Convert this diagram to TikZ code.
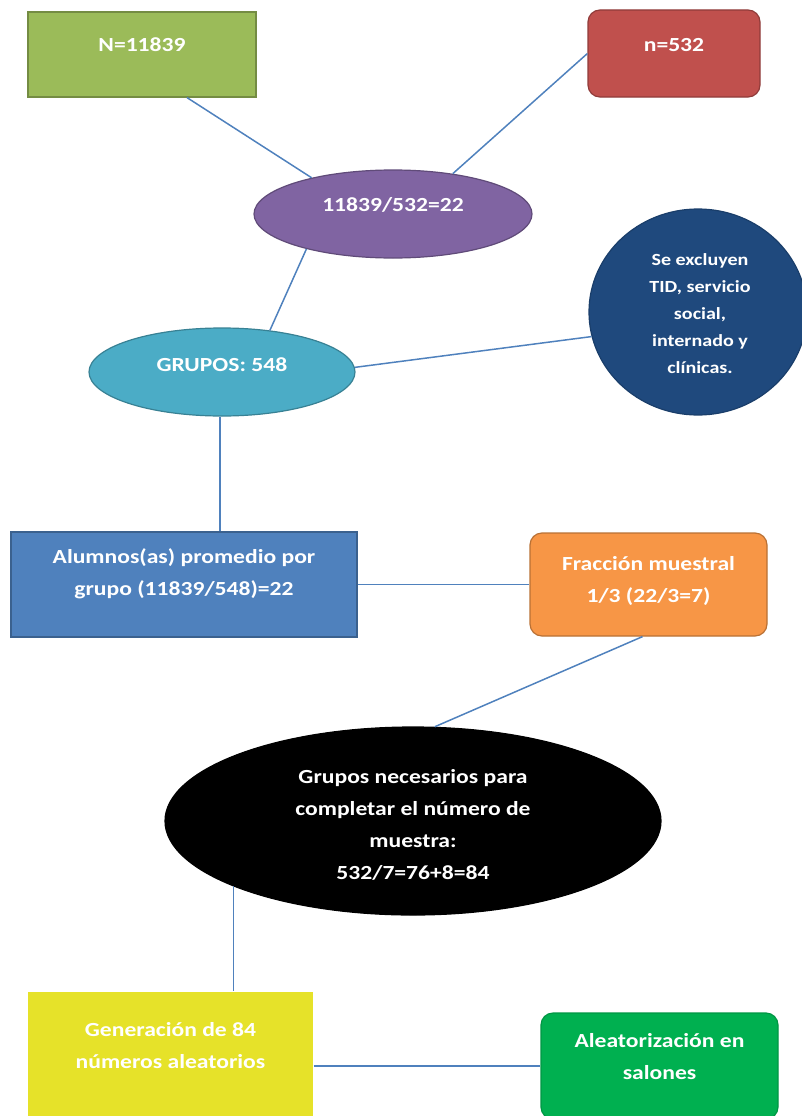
\documentclass[tikz,border=0pt]{standalone}
\usepackage{fontspec}
\setmainfont{Carlito}[FakeStretch=1.18]
\usetikzlibrary{shapes.geometric}
\definecolor{cgreen}{HTML}{9BBB59}
\definecolor{cred}{HTML}{C0504D}
\definecolor{cpurple}{HTML}{8064A2}
\definecolor{cnavy}{HTML}{1F497D}
\definecolor{cteal}{HTML}{4BACC6}
\definecolor{cblue}{HTML}{4F81BD}
\definecolor{corange}{HTML}{F79646}
\definecolor{cyellow}{HTML}{E6E229}
\definecolor{cgreen2}{HTML}{00B050}
\definecolor{cline}{HTML}{4F81BD}
\tikzset{
  shp/.style={inner sep=0pt, line width=1.2pt},
  boxshape/.style={shp, rectangle},
  rbox/.style={shp, rectangle, rounded corners=12pt},
  ell/.style={shp, ellipse},
  lbl/.style={text=white, align=center, font=\bfseries\fontsize{20}{32}\selectfont, inner sep=0pt},
  lbls/.style={text=white, align=center, font=\bfseries\fontsize{17}{27}\selectfont, inner sep=0pt},
  conn/.style={draw=cline, line width=1.5pt},
}
\begin{document}
\begin{tikzpicture}[x=1pt, y=-1pt]
\useasboundingbox (0,0) rectangle (802,1116);
% shapes
\node[boxshape, fill=cgreen, draw=cgreen!75!black, minimum width=228pt, minimum height=85pt] (N) at (142,54.5) {};
\node[rbox, fill=cred, draw=cred!75!black, minimum width=172pt, minimum height=87pt] (n) at (674,53.5) {};
\node[ell, fill=cpurple, draw=cpurple!75!black, minimum width=278pt, minimum height=88pt] (P) at (393,214) {};
\node[ell, fill=cnavy, draw=cnavy!85!black, minimum width=218pt, minimum height=206pt] (D) at (698,312) {};
\node[ell, fill=cteal, draw=cteal!75!black, minimum width=266pt, minimum height=88pt] (G) at (222,372) {};
\node[boxshape, fill=cblue, draw=cblue!75!black, minimum width=346pt, minimum height=105pt] (A) at (184,584.5) {};
\node[rbox, fill=corange, draw=corange!75!black, minimum width=237pt, minimum height=103pt] (F) at (648.5,584.5) {};
\node[ell, fill=black, draw=black, minimum width=496pt, minimum height=188pt] (B) at (413,821) {};
\node[boxshape, fill=cyellow, draw=none, minimum width=285pt, minimum height=148pt] (Gen) at (170.5,1066) {};
\node[rbox, fill=cgreen2, draw=cgreen2!85!black, minimum width=237pt, minimum height=106pt] (Al) at (659.5,1066) {};
% texts
\node[lbl] (tN) at (142,45) {N=11839};
\node[lbl] (tn) at (674,45) {n=532};
\node[lbl] (tP) at (393,205) {11839/532=22};
\node[lbls] (tD) at (700,314) {Se excluyen\\TID, servicio\\social,\\internado y\\clínicas.};
\node[lbl] (tG) at (222,365) {GRUPOS: 548};
\node[lbl] (tA) at (184,574) {Alumnos(as) promedio por\\grupo (11839/548)=22};
\node[lbl] (tF) at (648.5,581) {Fracción muestral\\1/3 (22/3=7)};
\node[lbl] (tB) at (413,825) {Grupos necesarios para\\completar el número de\\muestra:\\532/7=76+8=84};
\node[lbl] (tGen) at (170.5,1046) {Generación de 84\\números aleatorios};
\node[lbl] (tAl) at (659.5,1057) {Aleatorización en\\salones};
% connectors
\draw[conn] ([xshift=45pt]N.south) -- (P.156);
\draw[conn] (n.west) -- (P.34);
\draw[conn] (P.202) -- (G.41);
\draw[conn] (G.2) -- (D.193);
\draw[conn] ([xshift=-2pt]G.south) -- ([xshift=-2pt]G.south |- A.north);
\draw[conn] (A.east) -- (F.west);
\draw[conn] ([xshift=-6pt]F.south) -- (B.77);
\draw[conn] (B.200) -- (B.200 |- Gen.north);
\draw[conn] (Gen.east) -- (Al.west);
\end{tikzpicture}
\end{document}
